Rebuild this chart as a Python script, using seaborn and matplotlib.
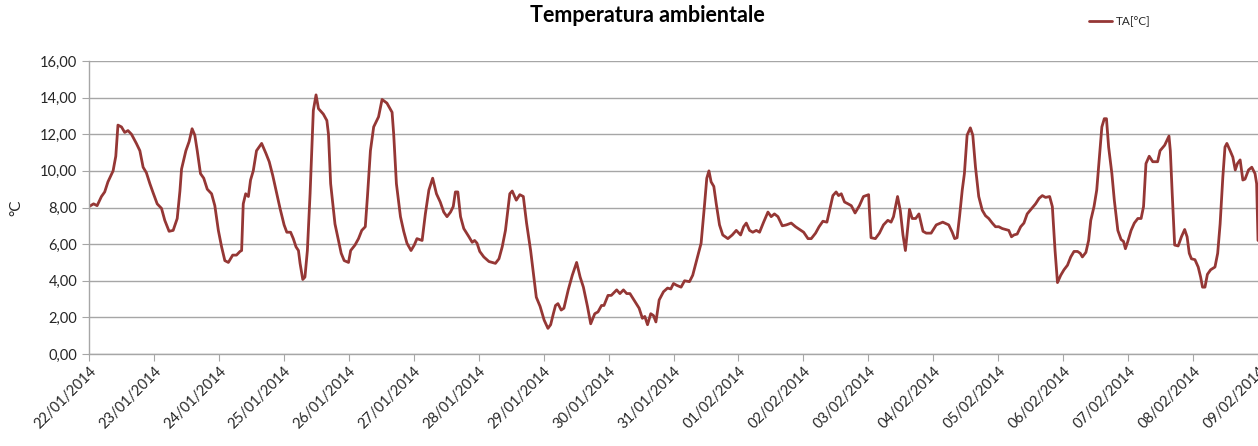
import pandas as pd
import matplotlib.pyplot as plt
import matplotlib.dates as mdates
from matplotlib.ticker import FuncFormatter
import seaborn as sns

# hours from 22/01/2014 00:00 and air temperature
hours = [
    0, 1.7, 3.0, 4.6, 5.8, 7.0, 8.9, 9.9, 10.7, 12.0, 13.2, 14.4, 15.7, 17.5, 18.8, 20.0,
    21.2, 22.5, 23.7, 25.2, 26.8, 28.0, 29.6, 31.1, 32.6, 33.6, 34.2, 35.8, 37.0, 38.1,
    39.1, 40.0, 41.2, 42.4, 43.7, 45.3, 46.5, 47.8, 49.0, 50.2, 51.5, 53.1, 54.5, 55.8,
    56.4, 57.0, 57.9, 58.9, 59.7, 60.7, 61.9, 63.8, 65.4, 66.6, 67.9, 69.4, 70.6, 72.1,
    73.1, 74.5, 75.5, 76.5, 77.4, 78.0, 79.0, 79.8, 80.7, 81.7, 82.9, 83.9, 84.8, 86.6,
    87.9, 88.5, 89.3, 90.9, 92.2, 93.2, 94.3, 95.9, 96.7, 98.3, 99.6, 100.8, 102.1, 102.9,
    104.0, 105.2, 107.0, 108.3, 110.1, 112.0, 112.6, 113.6, 115.1, 116.3, 117.5, 119.0,
    120.2, 121.2, 123.1, 124.3, 125.6, 127.0, 128.4, 129.8, 131.1, 132.3, 133.6, 134.6,
    135.4, 136.3, 137.3, 138.5, 140.4, 141.6, 142.5, 143.4, 144.4, 145.9, 147.8, 150.2,
    151.5, 152.7, 153.9, 155.5, 156.4, 157.9, 159.2, 160.5, 161.7, 163.2, 164.4, 165.3,
    166.7, 168.2, 169.6, 170.6, 171.6, 172.4, 173.3, 174.5, 175.5, 177.1, 178.6, 180.2,
    181.5, 182.7, 184.2, 185.4, 186.9, 188.1, 189.4, 190.3, 191.8, 193.0, 195.0, 196.2,
    197.5, 198.7, 199.9, 201.4, 203.3, 204.5, 205.4, 206.4, 207.6, 208.6, 209.5, 210.7,
    212.3, 213.8, 215.0,
    216.0, 217.2, 218.8, 220.1, 221.9, 223.1, 224.6, 226.2, 227.5, 228.3, 229.1, 229.9,
    230.9, 231.8, 233.0, 234.2, 236.1, 237.7, 239.2, 240.8, 241.9, 242.9, 244.1, 245.3,
    246.6, 247.8, 249.3, 250.9, 252.1, 253.3, 254.6, 256.2, 257.7, 259.5, 261.1, 262.6,
    264.1, 265.7, 266.9, 268.5, 269.8, 271.2, 272.7, 274.0, 274.9, 276.1, 277.0, 278.0,
    279.2, 280.5, 281.7, 283.1, 284.7, 286.2, 288.1, 288.4, 289.0, 290.6, 292.1, 293.6,
    295.2, 296.4, 297.3, 298.8, 299.8, 300.8, 301.7, 302.6, 303.2, 304.2, 305.5, 306.7,
    308.2, 309.4, 311.2, 313.1, 315.5,
    317.7, 319.0, 319.9, 320.8, 321.7, 322.7, 323.5, 324.5, 325.7, 326.6, 327.6, 328.8,
    330.1, 331.3, 332.5, 333.8, 335.0, 336.2, 337.5, 338.7, 339.9, 340.9, 341.8, 343.0,
    344.3, 345.5, 346.7, 348.4, 349.8, 351.1, 352.3, 353.5, 355.0, 356.0, 357.0, 357.9,
    359.1, 360.3, 361.6, 362.8, 364.0, 365.3, 366.3, 367.1, 368.4, 369.4, 370.2, 371.4,
    372.4, 373.3, 374.3, 375.2, 376.0, 376.8, 378.0, 378.9, 380.2, 381.4, 382.3, 383.0,
    383.9, 385.1, 386.3, 387.6, 388.8, 389.7, 390.6, 391.8, 393.1, 394.9, 395.8, 397.5,
    399.1, 399.6, 400.3, 401.2, 402.5, 403.7, 404.9, 405.8, 406.6, 407.4, 408.7, 409.9,
    410.8, 411.5, 412.4, 413.3, 414.5, 416.1, 417.1, 418.0, 419.0, 419.8, 420.5, 421.7,
    422.7, 423.6, 424.4, 425.4, 426.4, 427.2, 428.5, 429.7, 430.9, 431.5, 432.0,
]
temp = [
    8.05, 8.2, 8.1, 8.6, 8.85, 9.4, 10.0, 10.8, 12.5, 12.4, 12.1, 12.2, 12.0, 11.5, 11.1, 10.2,
    9.9, 9.3, 8.8, 8.2, 7.95, 7.3, 6.7, 6.75, 7.4, 8.9, 10.1, 11.1, 11.6, 12.3,
    11.95, 11.1, 9.85, 9.6, 9.0, 8.75, 8.1, 6.75, 5.85, 5.1, 5.0, 5.4, 5.4, 5.6,
    5.65, 8.2, 8.75, 8.6, 9.5, 10.0, 11.1, 11.5, 10.95, 10.5, 9.75, 8.75, 7.95, 7.05,
    6.65, 6.65, 6.3, 5.85, 5.65, 4.95, 4.07, 4.2, 5.65, 8.75, 13.3, 14.15, 13.4, 13.1,
    12.75, 12.0, 9.3, 7.1, 6.2, 5.5, 5.1, 5.0, 5.65, 5.95, 6.3, 6.75, 6.95, 8.6,
    11.1, 12.4, 12.95, 13.9, 13.7, 13.2, 12.0, 9.3, 7.5, 6.7, 6.05, 5.65,
    5.95, 6.3, 6.2, 7.65, 8.95, 9.6, 8.75, 8.3, 7.75, 7.5, 7.75, 8.05,
    8.85, 8.85, 7.5, 6.85, 6.4, 6.1, 6.2, 6.05, 5.6, 5.3, 5.05, 4.95,
    5.2, 5.85, 6.75, 8.75, 8.9, 8.4, 8.7, 8.6, 7.15, 5.65, 4.2, 3.1,
    2.6, 1.85, 1.4, 1.6, 2.2, 2.65, 2.75, 2.4, 2.5, 3.5, 4.3, 5.0,
    4.2, 3.65, 2.6, 1.65, 2.2, 2.3, 2.65, 2.65, 3.2, 3.2, 3.5, 3.3,
    3.5, 3.3, 3.3, 2.95, 2.5, 1.95, 2.05, 1.6, 2.2, 2.1, 1.75, 2.95,
    3.4, 3.6, 3.55,
    3.85, 3.75, 3.65, 4.0, 3.95, 4.3, 5.15, 6.05, 8.2, 9.6, 10.0, 9.4,
    9.15, 8.2, 7.05, 6.5, 6.3, 6.5, 6.75, 6.5, 6.95, 7.15, 6.75, 6.65,
    6.75, 6.65, 7.2, 7.75, 7.5, 7.65, 7.5, 7.0, 7.05, 7.15, 6.95, 6.8,
    6.65, 6.3, 6.3, 6.6, 6.95, 7.25, 7.2, 8.05, 8.65, 8.85, 8.65, 8.75,
    8.3, 8.2, 8.1, 7.7, 8.1, 8.6, 8.7, 7.85, 6.35, 6.3, 6.6, 7.05,
    7.3, 7.2, 7.5, 8.6, 7.85, 6.5, 5.65, 6.95, 7.9, 7.4, 7.4, 7.65,
    6.7, 6.6, 6.6, 7.05, 7.2,
    7.05, 6.65, 6.3, 6.35, 7.5, 8.95, 9.85, 11.95, 12.35, 11.95, 10.2, 8.6,
    7.85, 7.55, 7.4, 7.15, 6.95, 6.95, 6.85, 6.8, 6.75, 6.4, 6.5, 6.55,
    6.95, 7.15, 7.65, 7.95, 8.2, 8.5, 8.65, 8.55, 8.6, 8.05, 5.65, 3.9,
    4.3, 4.6, 4.85, 5.3, 5.6, 5.6, 5.5, 5.3, 5.55, 6.2, 7.3, 8.05,
    8.95, 10.6, 12.4, 12.85, 12.85, 11.3, 9.85, 8.4, 6.75, 6.25, 6.15, 5.75,
    6.15, 6.75, 7.15, 7.4, 7.4, 8.05, 10.4, 10.8, 10.5, 10.5, 11.1, 11.4,
    11.9, 11.1, 8.75, 5.95, 5.9, 6.4, 6.8, 6.4, 5.5, 5.2, 5.15, 4.75,
    4.2, 3.65, 3.65, 4.35, 4.6, 4.75, 5.5, 7.1, 9.65, 11.3, 11.5, 11.1,
    10.75, 10.05, 10.4, 10.6, 9.5, 9.55, 10.05, 10.2, 9.85, 9.3, 6.2,
]

start = pd.Timestamp("2014-01-22")
end = pd.Timestamp("2014-02-09")

df = pd.DataFrame({
    "Data": start + pd.to_timedelta(hours, unit="h"),
    "TA[°C]": temp,
})

sns.set_style("white")
plt.rcParams["font.family"] = ["Lato", "DejaVu Sans"]

fig = plt.figure(figsize=(12.58, 4.46), dpi=100)
ax = fig.add_axes([89 / 1258, 92 / 446, 1 - 89 / 1258, 293 / 446])

sns.lineplot(data=df, x="Data", y="TA[°C]", color="#953735", linewidth=2.0,
             label="TA[°C]", ax=ax, legend=False,
             solid_joinstyle="round", solid_capstyle="round")

ax.set_xlim(start, end)
ax.set_ylim(0, 16)
ax.set_yticks(range(0, 17, 2))
ax.yaxis.set_major_formatter(FuncFormatter(lambda v, p: f"{v:.2f}".replace(".", ",")))
ax.xaxis.set_major_locator(mdates.DayLocator())
ax.xaxis.set_major_formatter(mdates.DateFormatter("%d/%m/%Y"))
plt.setp(ax.get_xticklabels(), rotation=45, ha="right", rotation_mode="anchor")

ax.grid(axis="y", color="#a6a6a6", linewidth=1.0)
ax.set_axisbelow(True)
for s in ["top", "right"]:
    ax.spines[s].set_visible(False)
for s in ["left", "bottom"]:
    ax.spines[s].set_color("#a6a6a6")
    ax.spines[s].set_linewidth(1.0)
ax.tick_params(axis="both", direction="out", length=5, color="#a6a6a6",
               labelsize=10.5, labelcolor="#262626", left=True, bottom=True)
ax.tick_params(axis="x", pad=2)

ax.set_xlabel("")
ax.set_ylabel("°C", fontsize=11, color="#262626", labelpad=12)

fig.text(647 / 1258, 1 - 15 / 446, "Temperatura ambientale", ha="center", va="center",
         fontsize=15.5, fontweight="bold", color="black")

handles, labels = ax.get_legend_handles_labels()
fig.legend(handles, labels, loc="center left", bbox_to_anchor=(1078 / 1258, 1 - 22 / 446),
           frameon=False, fontsize=8.5, handlelength=2.0, handletextpad=0.3,
           labelcolor="#262626")

fig.savefig("out.png", dpi=100)
